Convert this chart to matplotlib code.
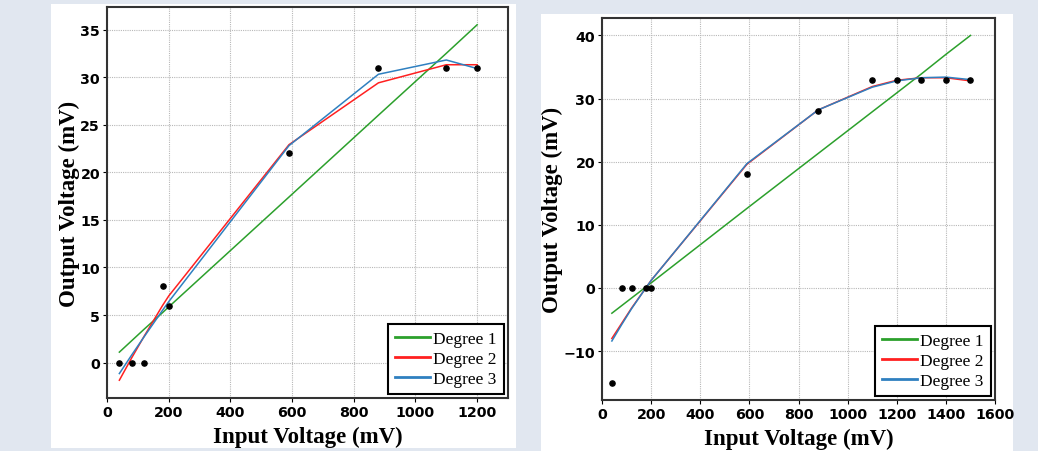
import numpy as np
import matplotlib
matplotlib.use("Agg")
import matplotlib.pyplot as plt
from matplotlib.patches import Rectangle

# measured points and fitted curves, first test
x_a = [40, 80, 120, 180, 200, 590, 880, 1100, 1200]
y_a = [0, 0, 0, 8, 6, 22, 31, 31, 31]
deg1_a = [1.1, 2.3, 3.5, 5.25, 5.85, 17.4, 26.0, 32.5, 35.5]
deg2_a = [-1.85, 0.5, 2.75, 6.0, 7.0, 22.9, 29.4, 31.3, 31.3]
deg3_a = [-1.15, 0.8, 2.7, 5.5, 6.4, 22.8, 30.3, 31.8, 30.9]

# second test
x_b = [40, 80, 120, 180, 200, 590, 880, 1100, 1200, 1300, 1400, 1500]
y_b = [-15, 0, 0, 0, 0, 18, 28, 33, 33, 33, 33, 33]
deg1_b = [-4.0, -2.8, -1.6, 0.2, 0.8, 12.6, 21.3, 27.9, 30.9, 33.9, 37.0, 40.0]
deg2_b = [-8.0, -5.6, -3.2, 0.1, 1.2, 19.6, 28.2, 31.9, 32.9, 33.3, 33.3, 32.8]
deg3_b = [-8.4, -5.8, -3.3, 0.1, 1.2, 19.7, 28.2, 31.8, 32.8, 33.3, 33.4, 33.0]

labels = ["Degree 1", "Degree 2", "Degree 3"]
colors = ["#2ca02c", "#ff2020", "#2f80c0"]

fig = plt.figure(figsize=(10.38, 4.52), dpi=100, facecolor="#e1e7f0")

# white panels behind each plot
fig.patches.append(Rectangle((0.0491, 0.0066), 0.448, 0.982, transform=fig.transFigure,
                             facecolor="white", edgecolor="none", zorder=-5))
fig.patches.append(Rectangle((0.5212, 0.0), 0.4547, 0.9668, transform=fig.transFigure,
                             facecolor="white", edgecolor="none", zorder=-5))

ax1 = fig.add_axes([0.1031, 0.1173, 0.3863, 0.865])
ax2 = fig.add_axes([0.58, 0.1128, 0.3786, 0.845])

def draw(ax, x, y, fits, xmax):
    ax.scatter(x, y, s=14, color="black", zorder=4)
    for f, c, lab in zip(fits, colors, labels):
        ax.plot(x, f, color=c, lw=1.1, label=lab, zorder=3)
    ax.set_xlim(0, xmax)
    ax.grid(True, color="#b8b8b8", linestyle=(0, (1, 1)), lw=0.8)
    for s in ax.spines.values():
        s.set_linewidth(1.5)
        s.set_color("#333333")
    ax.tick_params(labelsize=10.3, pad=2, length=3)
    ax.set_xlabel("Input Voltage (mV)", family="Liberation Serif", fontweight="bold",
                  fontsize=16.5, labelpad=5)
    ax.set_ylabel("Output Voltage (mV)", family="Liberation Serif", fontweight="bold",
                  fontsize=16.5, labelpad=0)
    leg = ax.legend(loc="lower right", prop={"family": "Liberation Serif", "size": 12.5},
                    fancybox=False, edgecolor="black", framealpha=1,
                    handlelength=2.0, handletextpad=0.2, borderpad=0.4,
                    labelspacing=0.2, borderaxespad=0.25)
    leg.get_frame().set_linewidth(1.5)
    for h in leg.get_lines():
        h.set_linewidth(2)

draw(ax1, x_a, y_a, [deg1_a, deg2_a, deg3_a], 1300)
draw(ax2, x_b, y_b, [deg1_b, deg2_b, deg3_b], 1600)
ax2.set_yticks([-10, 0, 10, 20, 30, 40])

for ax in (ax1, ax2):
    for t in ax.get_xticklabels() + ax.get_yticklabels():
        t.set_fontweight("bold")

fig.savefig("out.png", dpi=100, facecolor=fig.get_facecolor())
